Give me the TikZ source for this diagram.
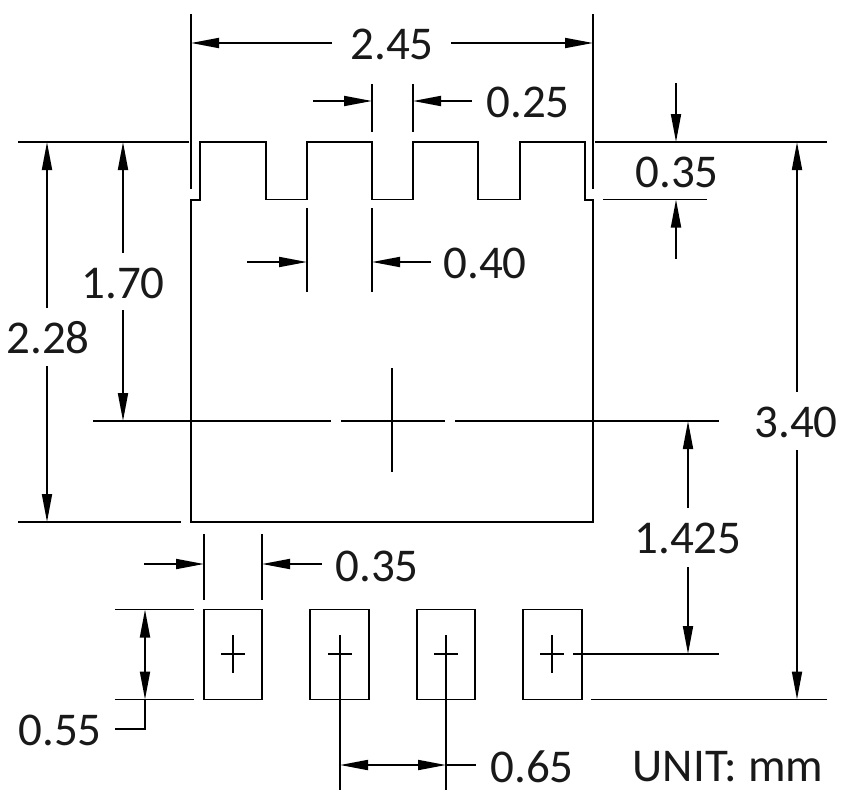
\documentclass[tikz,border=0pt]{standalone}
\usepackage{fontspec}
\setmainfont{Carlito}
\usetikzlibrary{arrows.meta}
\tikzset{
  ln/.style={line width=1.8pt,line cap=butt},
  thin ln/.style={line width=1.5pt},
  dim/.style={ln,-{Triangle[length=28pt,width=10pt]}},
  ddim/.style={ln,{Triangle[length=28pt,width=10pt]}-{Triangle[length=28pt,width=10pt]}},
  lbl/.style={font=\fontsize{47}{47}\selectfont,inner sep=0pt,text=black!90}
}
\begin{document}
\begin{tikzpicture}[x=1pt,y=-1pt]
\useasboundingbox (0,0) rectangle (842,792);
% body
\draw[ln,line join=miter] (191,522) -- (191,200) -- (200,200) -- (200,142) -- (266,142) -- (266,199.5) -- (307,199.5) -- (307,142) -- (372,142) -- (372,199.5) -- (413,199.5) -- (413,142) -- (478,142) -- (478,199.5) -- (520,199.5) -- (520,142) -- (585,142) -- (585,200) -- (593,200) -- (593,522) -- cycle;
% extension lines
\draw[ln] (191,14) -- (191,189);
\draw[ln] (593,14) -- (593,189);
\draw[ln] (18,142) -- (189,142);
\draw[ln] (595,142) -- (827,142);
\draw[ln] (603,199.5) -- (707,199.5);
\draw[ln] (18,522) -- (181,522);
\draw[ln] (372,84) -- (372,132);
\draw[ln] (413,84) -- (413,132);
\draw[ln] (307,208) -- (307,292);
\draw[ln] (372,208) -- (372,292);
\draw[ln] (204,534) -- (204,600);
\draw[ln] (262,534) -- (262,600);
\draw[ln] (115,609.5) -- (194,609.5);
\draw[ln] (115,699.5) -- (194,699.5);
\draw[ln] (591,699.5) -- (827,699.5);
% centre
\draw[ln] (93,421) -- (331,421);
\draw[ln] (341,421) -- (445,421);
\draw[ln] (455,421) -- (719,421);
\draw[ln] (392,368) -- (392,472);
% pads
\foreach \a/\b/\c in {204/262/233,310/369/340,417/475/446,523/582/552}{
  \draw[ln] (\a,609.5) rectangle (\b,699.5);
  \draw[thin ln] (\c,635) -- (\c,673);
  \draw[thin ln] (\c-12,654) -- (\c+12,654);
}
\draw[ln] (573,654) -- (719,654);
\draw[ln] (340,654) -- (340,790);
\draw[ln] (446,654) -- (446,790);
% dimensions
\draw[dim] (332,43) -- (191,43);
\draw[dim] (451,43) -- (593,43);
\draw[dim] (313,101) -- (372,101);
\draw[dim] (472,101) -- (413,101);
\draw[dim] (676,83) -- (676,142);
\draw[dim] (676,259) -- (676,199.5);
\draw[dim] (247,262) -- (307,262);
\draw[dim] (431,262) -- (372,262);
\draw[dim] (47,308) -- (47,142);
\draw[dim] (47,366) -- (47,522);
\draw[dim] (123,253) -- (123,142);
\draw[dim] (123,310) -- (123,421);
\draw[dim] (797,392) -- (797,142);
\draw[dim] (797,450) -- (797,699.5);
\draw[dim] (688,508) -- (688,421);
\draw[dim] (688,567) -- (688,654);
\draw[dim] (144,564) -- (204,564);
\draw[dim] (322,564) -- (262,564);
\draw[ddim] (145,609.5) -- (145,699.5);
\draw[ln] (145,699.5) -- (145,729) -- (115,729);
\draw[ddim] (340,765) -- (446,765);
\draw[ln] (446,765) -- (476,765);
% labels
\node[lbl] (t245) at (392,44) {2.45};
\node[lbl] (t025) at (528,102) {0.25};
\node[lbl] (t035a) at (677,172) {0.35};
\node[lbl] (t040) at (485,263) {0.40};
\node[lbl] (t170) at (123,283) {1.70};
\node[lbl] (t228) at (48,338) {2.28};
\node[lbl] (t340) at (796,422) {3.40};
\node[lbl] (t1425) at (688,538) {1.425};
\node[lbl] (t035b) at (377,566) {0.35};
\node[lbl] (t055) at (60,730) {0.55};
\node[lbl] (t065) at (532,767) {0.65};
\node[lbl] (tunit) at (728,767) {UNIT: mm};
\end{tikzpicture}
\end{document}
